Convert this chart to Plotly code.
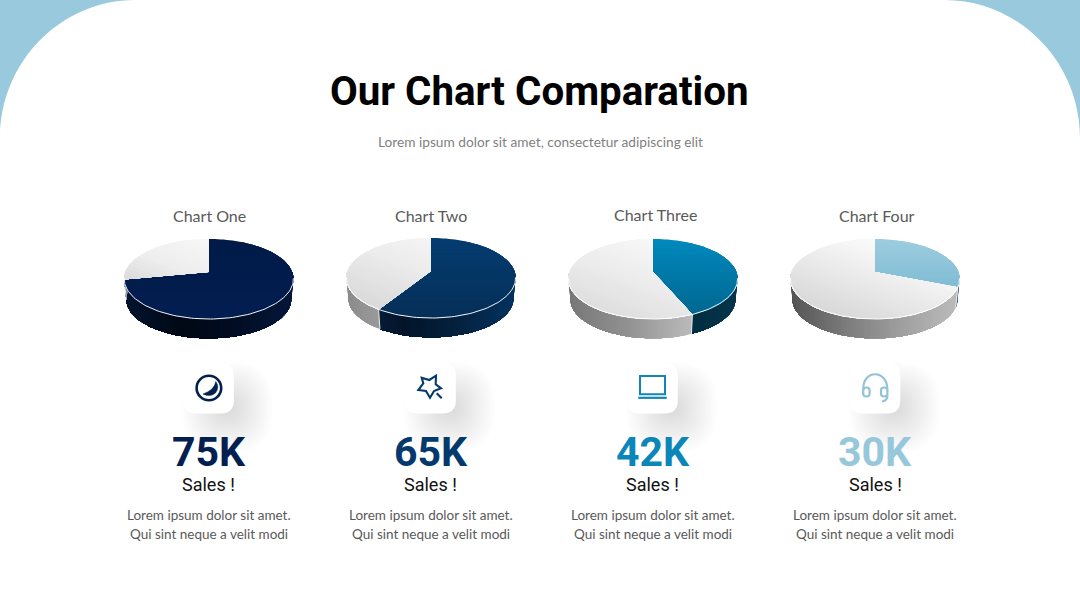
import math
import numpy as np
import plotly.graph_objects as go

# ---------- data ----------
categories = ["Chart One", "Chart Two", "Chart Three", "Chart Four"]
slice_share = [72.0, 59.0, 43.5, 31.0]          # coloured slice, % of the pie, clockwise from 12 o'clock
rest_share = [28.0, 41.0, 56.5, 69.0]           # grey slice
big_labels = ["75K", "65K", "42K", "30K"]
sub_labels = ["Sales !", "Sales !", "Sales !", "Sales !"]
body_line_1 = "Lorem ipsum dolor sit amet."
body_line_2 = "Qui sint neque a velit modi"
title_text = "Our Chart Comparation"
subtitle_text = "Lorem ipsum dolor sit amet, consectetur adipiscing elit"

# ---------- style ----------
pie_cx = [208.8, 431, 653, 875]
pie_ay = [272, 271, 272, 272]
label_x = [209, 431, 655, 877]
label_y = [215.5, 215.5, 214.5, 215.5]
col_x = [208.5, 430.5, 652.5, 875]
num_colors = ["#02204f", "#04396d", "#0a87b8", "#97c7db"]
top_stops = [
    ["#011a48", "#021e50"], ["#043c70", "#052f58"],
    ["#0089bd", "#00658e"], ["#9dcde0", "#6db0cc"],
]
grey_stops = [
    ["#fafafa", "#eeeeee", "#cfcfcf"], ["#f8f8f8", "#eaeaea", "#d9d9d9"],
    ["#fafafa", "#eeeeee", "#dedede"], ["#ffffff", "#ececec", "#d8d8d8"],
]
wall_col = [
    ["#04183c", "#010d24", "#000814", "#041530"],
    ["#033261", "#04223f", "#03142a", "#0a2745"],
    ["#05364c", "#022a3c", "#011f2e", "#062f42"],
    ["#4d6a78", "#3e5a68", "#30444f", "#233842"],
]
wall_grey = [
    ["#c9c9c9", "#bcbcbc", "#a0a0a0", "#8a8a8a"],
    ["#c8c8c8", "#b8b8b8", "#a4a4a4", "#8c8c8c"],
    ["#d0d0d0", "#b4b4b4", "#909090", "#787878"],
    ["#bcbcbc", "#a0a0a0", "#7c7c7c", "#555555"],
]
RX, AY, K = 83.3, 38.8, 0.175
DEPTH, SHRINK = 20.5, 0.975


def hex2rgb(h):
    return [int(h[i:i + 2], 16) for i in (1, 3, 5)]


def ramp(stops, t):
    t = min(max(t, 0.0), 1.0) * (len(stops) - 1)
    i = min(int(t), len(stops) - 2)
    f = t - i
    a, b = hex2rgb(stops[i]), hex2rgb(stops[i + 1])
    return "rgb(%d,%d,%d)" % tuple(round(a[j] + (b[j] - a[j]) * f) for j in range(3))


def project(theta, cx, ay, dy=0.0, s=1.0):
    u, v = np.sin(theta), np.cos(theta)
    w = 1 + K * v
    return cx + s * RX * u / w, ay + dy - s * AY * v / w


def clip_from(poly, d, lim):
    """Keep the part of a polygon beyond lim along direction d."""
    out = []
    n = len(poly)
    for i in range(n):
        a, b = poly[i], poly[(i + 1) % n]
        fa = a[0] * d[0] + a[1] * d[1] - lim
        fb = b[0] * d[0] + b[1] * d[1] - lim
        if fa >= 0:
            out.append(a)
        if fa * fb < 0:
            r = fa / (fa - fb)
            out.append((a[0] + (b[0] - a[0]) * r, a[1] + (b[1] - a[1]) * r))
    return out


def add_fill(fig, xs, ys, color):
    fig.add_trace(go.Scatter(
        x=list(xs) + [xs[0]], y=list(ys) + [ys[0]], mode="none", fill="toself",
        fillcolor=color, hoverinfo="skip", showlegend=False))


def rrect(x0, y0, x1, y1, r):
    return (f"M{x0 + r},{y0} L{x1 - r},{y0} Q{x1},{y0} {x1},{y0 + r} L{x1},{y1 - r} "
            f"Q{x1},{y1} {x1 - r},{y1} L{x0 + r},{y1} Q{x0},{y1} {x0},{y1 - r} "
            f"L{x0},{y0 + r} Q{x0},{y0} {x0 + r},{y0} Z")


fig = go.Figure()

# ---------- pies ----------
for i in range(4):
    cx, ay = pie_cx[i], pie_ay[i]
    total = slice_share[i] + rest_share[i]
    split = 2 * math.pi * slice_share[i] / total

    # wall: front half only; each strip runs to the end of its slice and the next one paints over it
    has_split = math.pi / 2 < split < 3 * math.pi / 2
    ranges = ([(math.pi / 2, split, wall_col[i]), (split, 3 * math.pi / 2, wall_grey[i])]
              if has_split else
              [(math.pi / 2, 3 * math.pi / 2, wall_grey[i] if split <= math.pi / 2 else wall_col[i])])
    for a0, a1, stops in ranges:
        n = max(3, int((a1 - a0) * 30))
        th = np.linspace(a0, a1, n + 1)
        for k in range(n):
            arc = th[k:]
            xt, yt = project(arc, cx, ay)
            xb, yb = project(arc[::-1], cx, ay, DEPTH, SHRINK)
            t = ((xt[0] + xt[1]) / 2 - (cx - 85)) / 170
            add_fill(fig, list(xt) + list(xb), list(yt) + list(yb), ramp(stops, 1 - t))
    if has_split:
        xa, ya = project(split, cx, ay)
        xd, yd = project(split, cx, ay, DEPTH, SHRINK)
        fig.add_trace(go.Scatter(x=[xa, xd], y=[ya, yd], mode="lines",
                                 line=dict(color="#e8eef2", width=1),
                                 hoverinfo="skip", showlegend=False))

    # top face: light-to-dark bands, each painted over the remainder of the slice
    faces = [(0.0, split, top_stops[i], (0.0, 1.0)),
             (split, 2 * math.pi, grey_stops[i], (-0.35, 0.94))]
    for a0, a1, stops, d in faces:
        n = max(8, int((a1 - a0) * 24))
        th = np.linspace(a0, a1, n)
        px, py = project(th, cx, ay)
        poly = [(cx, float(ay))] + list(zip(px.tolist(), py.tolist()))
        rth = np.linspace(0, 2 * math.pi, 90)
        rx_, ry_ = project(rth, cx, ay)
        proj = rx_ * d[0] + ry_ * d[1]
        lo, hi = proj.min(), proj.max()
        bands = 26
        for b in range(bands):
            part = clip_from(poly, d, lo + (hi - lo) * b / bands)
            if len(part) >= 3:
                add_fill(fig, [p[0] for p in part], [p[1] for p in part],
                         ramp(stops, (b + 0.5) / bands))

    # thin white rim along the front of the top face
    rim = np.linspace(math.pi * 0.55, math.pi * 1.45, 90)
    rx_, ry_ = project(rim, cx, ay)
    fig.add_trace(go.Scatter(x=rx_, y=ry_, mode="lines",
                             line=dict(color="rgba(255,255,255,0.95)", width=1),
                             hoverinfo="skip", showlegend=False))

# ---------- decoration ----------
shapes = []
blue = "#98c9dd"
shapes.append(dict(type="path", path="M0,0 L135,0 C61,0 0,62 0,138 Z",
                   fillcolor=blue, line=dict(width=0), layer="below"))
shapes.append(dict(type="path", path="M1080,0 L945,0 C1019,0 1080,62 1080,138 Z",
                   fillcolor=blue, line=dict(width=0), layer="below"))

for x in col_x:
    y = 388.3
    for g in range(36):
        h = 46 - g * 1.18
        off = 19
        shapes.append(dict(type="path",
                           path=rrect(x + off - h, y + off - h, x + off + h, y + off + h, h * 0.9),
                           fillcolor="rgba(0,0,0,0.0034)", line=dict(width=0), layer="below"))
    shapes.append(dict(type="path", path=rrect(x - 25.3, y - 25.3, x + 25.3, y + 25.3, 13),
                       fillcolor="#ffffff", line=dict(width=0), layer="below"))

# icon 1: ring + crescent
c = num_colors[0]
shapes.append(dict(type="circle", x0=196.6, x1=221.2, y0=375.7, y1=400.3,
                   line=dict(color=c, width=2.6), layer="above"))
shapes.append(dict(type="path", path="M215.8,381.5 Q214.5,390 203,394 Q210,397.5 215.5,393 Q220,387 215.8,381.5 Z",
                   fillcolor=c, line=dict(color=c, width=0.5), layer="above"))
# icon 2: star wand
c = num_colors[1]
shapes.append(dict(type="path",
                   path="M421.7,377.7 L429.3,380 L436,375.7 L435.7,384.3 L441,388.3 L434,391 L430,397.7 L426,391 L418.3,390 L423.3,383.3 Z",
                   line=dict(color=c, width=2.1), layer="above"))
shapes.append(dict(type="line", x0=436.7, y0=393.3, x1=441.7, y1=398.3,
                   line=dict(color=c, width=2.1), layer="above"))
# icon 3: laptop
c = "#1186b5"
shapes.append(dict(type="rect", x0=640, y0=376, x1=665, y1=394.3,
                   line=dict(color=c, width=2), layer="above"))
shapes.append(dict(type="line", x0=638.3, y0=397.8, x1=666.7, y1=397.8,
                   line=dict(color=c, width=2.2), layer="above"))
# icon 4: headset
c = "#92c3d8"
shapes.append(dict(type="path", path="M863.3,390 C862,369 888,369 887.3,390",
                   line=dict(color=c, width=2.2), layer="above"))
shapes.append(dict(type="path", path=rrect(863.2, 387.5, 869.6, 396.5, 3),
                   line=dict(color=c, width=2.2), layer="above"))
shapes.append(dict(type="path", path=rrect(881, 387.5, 887.4, 396.5, 3),
                   line=dict(color=c, width=2.2), layer="above"))
shapes.append(dict(type="path", path="M887.4,395 C887.6,399 885,401 882,401.5",
                   line=dict(color=c, width=2.2), layer="above"))

# ---------- text ----------
ann = []


def text(x, y, s, font, size, color, bold=False):
    ann.append(dict(x=x, y=y, xref="x", yref="y", text=f"<b>{s}</b>" if bold else s,
                    showarrow=False, xanchor="center", yanchor="middle",
                    font=dict(family=font, size=size, color=color)))


text(539.5, 91, title_text, "Roboto", 40.3, "#000000", True)
text(540, 141.5, subtitle_text, "Lato", 13.7, "#7f7f7f")
for i in range(4):
    text(label_x[i], label_y[i], categories[i], "Lato", 16, "#595959")
    text(col_x[i], 452, big_labels[i], "Roboto", 41, num_colors[i], True)
    text(col_x[i], 484, sub_labels[i], "Roboto", 18, "#111111")
    text(col_x[i], 515, body_line_1, "Lato", 13.5, "#595959")
    text(col_x[i], 534, body_line_2, "Lato", 13.5, "#595959")

fig.update_layout(
    width=1080, height=608, margin=dict(l=0, r=0, t=0, b=0, pad=0),
    paper_bgcolor="#ffffff", plot_bgcolor="rgba(0,0,0,0)", showlegend=False,
    xaxis=dict(range=[0, 1080], visible=False, fixedrange=True),
    yaxis=dict(range=[608, 0], visible=False, fixedrange=True),
    shapes=shapes, annotations=ann, hovermode=False,
)
fig.write_html("out.html", config={"displayModeBar": False},
               post_script="document.body.style.margin='0';document.body.style.overflow='hidden';")
